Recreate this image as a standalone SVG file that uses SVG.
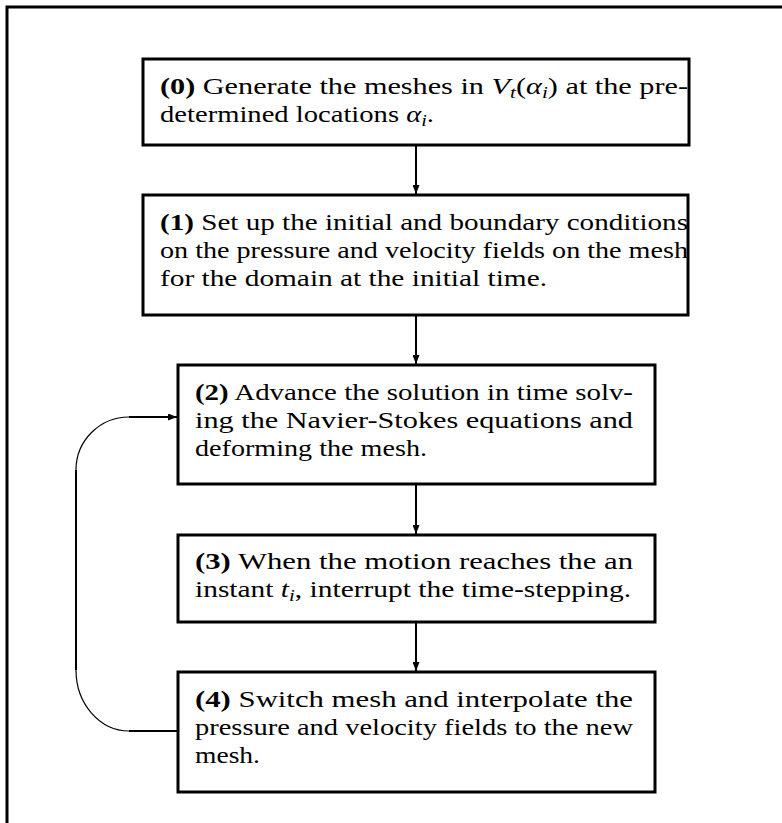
<svg xmlns="http://www.w3.org/2000/svg" width="782" height="823" viewBox="0 0 782 823">
<style>
.box{fill:#fff;stroke:#000;stroke-width:3}
.frame{fill:none;stroke:#000;stroke-width:3}
.con{fill:none;stroke:#000;stroke-width:2}
.arc{fill:none;stroke:#000;stroke-width:1.2}
.t{font-family:"Liberation Serif","Times New Roman",serif;font-size:24px;fill:#000}
.b{font-weight:bold}
.i{font-style:italic}
.s{font-size:17px}
</style>
<defs>
<marker id="ah" viewBox="0 0 9 7" refX="9" refY="3.5" markerWidth="9" markerHeight="7" markerUnits="userSpaceOnUse" orient="auto">
<path d="M0,0 L9,3.5 L0,7 z" fill="#000"/>
</marker>
</defs>
<rect width="782" height="823" fill="#fff"/>
<path class="frame" d="M7,823 V7 H782"/>
<g id="connectors">
<line class="con" x1="416" y1="145" x2="416" y2="194" marker-end="url(#ah)"/>
<line class="con" x1="416" y1="315" x2="416" y2="364" marker-end="url(#ah)"/>
<line class="con" x1="416" y1="484" x2="416" y2="534" marker-end="url(#ah)"/>
<line class="con" x1="416" y1="622" x2="416" y2="671" marker-end="url(#ah)"/>
<line class="con" x1="178" y1="731" x2="129" y2="731"/>
<path class="arc" d="M129,731 A53,61 0 0 1 76,670"/>
<line class="con" x1="76" y1="670" x2="76" y2="470"/>
<path class="arc" d="M76,470 A53,53 0 0 1 129,417"/>
<line class="con" x1="129" y1="417" x2="177" y2="417" marker-end="url(#ah)"/>
</g>
<g id="step0">
<rect class="box" x="143" y="59" width="546" height="86"/>
<text class="t" x="160" y="94" textLength="528" lengthAdjust="spacingAndGlyphs"><tspan class="b">(0)</tspan> Generate the meshes in <tspan class="i">V</tspan><tspan class="i s" dy="4">t</tspan><tspan dy="-4">(</tspan><tspan class="i">α</tspan><tspan class="i s" dy="4">i</tspan><tspan dy="-4">) at the pre-</tspan></text>
<text class="t" x="160" y="122" textLength="274" lengthAdjust="spacingAndGlyphs">determined locations <tspan class="i">α</tspan><tspan class="i s" dy="4">i</tspan><tspan dy="-4">.</tspan></text>
</g>
<g id="step1">
<rect class="box" x="143" y="195" width="545" height="120"/>
<text class="t" x="160" y="230" textLength="528" lengthAdjust="spacingAndGlyphs"><tspan class="b">(1)</tspan> Set up the initial and boundary conditions</text>
<text class="t" x="160" y="258" textLength="528" lengthAdjust="spacingAndGlyphs">on the pressure and velocity fields on the mesh</text>
<text class="t" x="160" y="286" textLength="387" lengthAdjust="spacingAndGlyphs">for the domain at the initial time.</text>
</g>
<g id="step2">
<rect class="box" x="178" y="365" width="477" height="119"/>
<text class="t" x="195" y="400" textLength="438" lengthAdjust="spacingAndGlyphs"><tspan class="b">(2)</tspan> Advance the solution in time solv-</text>
<text class="t" x="195" y="428" textLength="438" lengthAdjust="spacingAndGlyphs">ing the Navier-Stokes equations and</text>
<text class="t" x="195" y="456" textLength="232" lengthAdjust="spacingAndGlyphs">deforming the mesh.</text>
</g>
<g id="step3">
<rect class="box" x="178" y="535" width="477" height="87"/>
<text class="t" x="195" y="569" textLength="438" lengthAdjust="spacingAndGlyphs"><tspan class="b">(3)</tspan> When the motion reaches the an</text>
<text class="t" x="195" y="597" textLength="436" lengthAdjust="spacingAndGlyphs">instant <tspan class="i">t</tspan><tspan class="i s" dy="4">i</tspan><tspan dy="-4">, interrupt the time-stepping.</tspan></text>
</g>
<g id="step4">
<rect class="box" x="178" y="672" width="477" height="120"/>
<text class="t" x="195" y="707" textLength="438" lengthAdjust="spacingAndGlyphs"><tspan class="b">(4)</tspan> Switch mesh and interpolate the</text>
<text class="t" x="195" y="735" textLength="438" lengthAdjust="spacingAndGlyphs">pressure and velocity fields to the new</text>
<text class="t" x="195" y="763" textLength="65" lengthAdjust="spacingAndGlyphs">mesh.</text>
</g>
</svg>
